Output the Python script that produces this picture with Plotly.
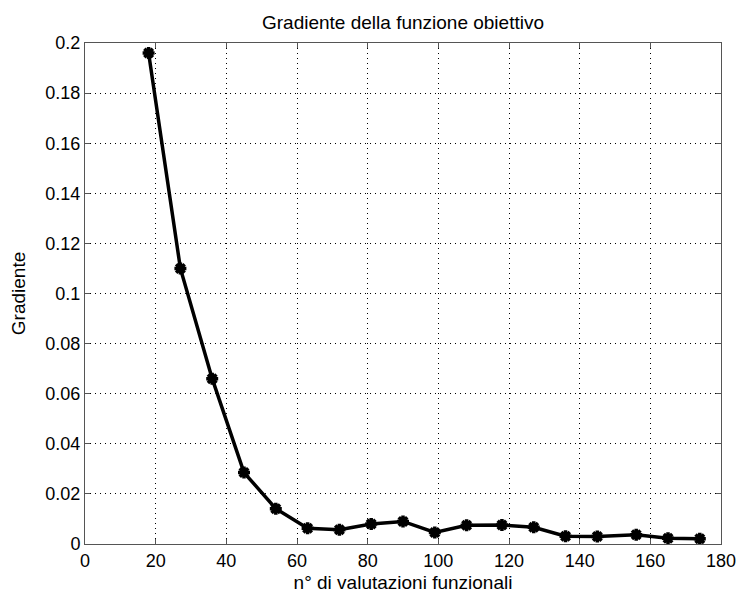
import plotly.graph_objects as go

evals = [18, 27, 36, 45, 54, 63, 72, 81, 90, 99, 108, 118, 127, 136, 145, 156, 165, 174]
gradient = [0.196, 0.110, 0.066, 0.0285, 0.0141, 0.0063, 0.0057, 0.0080, 0.0090, 0.0046,
            0.0075, 0.0076, 0.0067, 0.0031, 0.0030, 0.0037, 0.0023, 0.0021]

x_ticks = [0, 20, 40, 60, 80, 100, 120, 140, 160, 180]
x_ticklabels = ["0", "20", "40", "60", "80", "100", "120", "140", "160", "180"]
y_ticks = [0, 0.02, 0.04, 0.06, 0.08, 0.1, 0.12, 0.14, 0.16, 0.18, 0.2]
y_ticklabels = ["0", "0.02", "0.04", "0.06", "0.08", "0.1", "0.12", "0.14", "0.16", "0.18", "0.2"]

title_text = "Gradiente della funzione obiettivo"
x_title = "n° di valutazioni funzionali"
y_title = "Gradiente"

FONT = "Liberation Sans, Arial, sans-serif"

fig = go.Figure()
fig.add_trace(go.Scatter(
    x=evals, y=gradient, mode="lines+markers",
    line=dict(color="black", width=3.5),
    marker=dict(symbol="asterisk-open", size=10, color="black",
                line=dict(color="black", width=3.5)),
    showlegend=False,
))

axis_common = dict(
    showline=True, linecolor="#555555", linewidth=1, mirror="ticks",
    ticks="inside", ticklen=5, tickcolor="#555555", tickwidth=1,
    showgrid=True, gridcolor="black", gridwidth=1, griddash="1px,4px",
    zeroline=False, automargin=False,
    tickfont=dict(family=FONT, size=18, color="black"),
)

fig.update_layout(
    width=737, height=597,
    margin=dict(l=85, r=16, t=43, b=53),
    paper_bgcolor="white", plot_bgcolor="white",
    font=dict(family=FONT, size=18, color="black"),
    title=dict(text=title_text, x=0.5, xref="paper", y=1 - 22 / 597,
               yref="container", yanchor="middle", xanchor="center",
               font=dict(family=FONT, size=19, color="black")),
    xaxis=dict(range=[0, 180], tickvals=x_ticks, ticktext=x_ticklabels,
               title=dict(text=x_title, standoff=6,
                          font=dict(family=FONT, size=19, color="black")),
               **axis_common),
    yaxis=dict(range=[0, 0.2], tickvals=y_ticks, ticktext=y_ticklabels,
               title=dict(text=y_title, standoff=14,
                          font=dict(family=FONT, size=19, color="black")),
               **axis_common),
)

fig.write_html("out.html")
